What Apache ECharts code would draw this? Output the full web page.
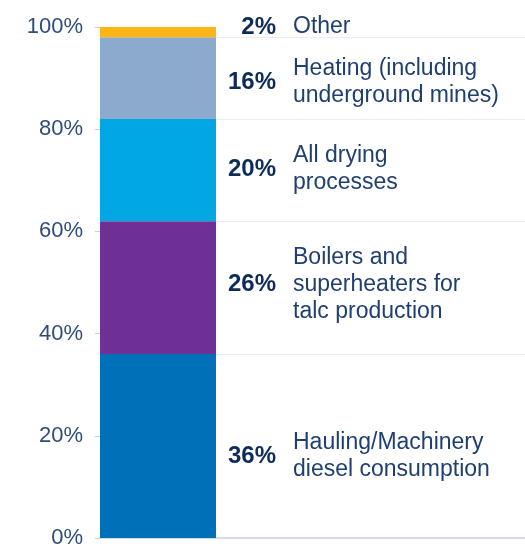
<!DOCTYPE html>
<html>
<head>
<meta charset="utf-8">
<script src="https://cdn.jsdelivr.net/npm/echarts@6/dist/echarts.min.js"></script>
<style>html,body{margin:0;padding:0;background:#fff}#c{width:525px;height:547px}</style>
</head>
<body>
<div id="c"></div>
<script>
// Data (bottom to top)
const categories = ['Hauling/Machinery\ndiesel consumption', 'Boilers and\nsuperheaters for\ntalc production', 'All drying\nprocesses', 'Heating (including\nunderground mines)', 'Other'];
const shares = [36, 26, 20, 16, 2];
const colors = ['#0070B8', '#6F3096', '#00A7E3', '#8CAACE', '#FDB515'];
const yTicks = [0, 20, 40, 60, 80, 100];

const FONT = '"Liberation Sans", Arial, Helvetica, sans-serif';
const labelNudge = [10, -3, -1, 4, -5];

// boundaries between segments
const bounds = [];
let acc = 0;
shares.forEach((v, i) => { acc += v; if (i < shares.length - 1) bounds.push(acc); });

const series = [];
shares.forEach((v, i) => {
  series.push({
    type: 'bar', xAxisIndex: 0, yAxisIndex: 0, stack: 'mix', barWidth: '100%',
    name: categories[i],
    itemStyle: { color: colors[i] },
    emphasis: { disabled: true },
    label: {
      show: true, position: 'right', distance: 0, offset: [0, labelNudge[i]],
      formatter: '{p|{c}%}',
      rich: { p: { width: 60, align: 'right', fontWeight: 'bold', fontSize: 24, fontFamily: FONT, color: '#0d2c5a' } }
    },
    data: [v]
  });
});
shares.forEach((v, i) => {
  const s = {
    type: 'bar', xAxisIndex: 1, yAxisIndex: 1, stack: 'names', barWidth: '100%',
    itemStyle: { color: 'rgba(0,0,0,0)' },
    emphasis: { disabled: true },
    silent: true,
    label: {
      show: true, position: 'insideLeft', distance: 77, offset: [0, labelNudge[i]],
      formatter: () => categories[i],
      fontSize: 23, lineHeight: 27, fontFamily: FONT, color: '#1f3f70'
    },
    data: [v]
  };
  if (i === 0) {
    s.markLine = {
      silent: true, symbol: ['none', 'none'], label: { show: false },
      lineStyle: { color: '#ebebf1', type: 'solid', width: 1 },
      data: bounds.map(b => ({ yAxis: b }))
    };
  }
  series.push(s);
});

const chart = echarts.init(document.getElementById('c'), null, { renderer: 'canvas' });
chart.setOption({
  animation: false,
  backgroundColor: '#ffffff',
  grid: [
    { left: 100, width: 116, top: 27, bottom: 9, containLabel: false, outerBoundsMode: 'none' },
    { left: 216, right: 0, top: 27, bottom: 9, containLabel: false, outerBoundsMode: 'none' }
  ],
  xAxis: [
    { type: 'category', gridIndex: 0, data: ['mix'], axisLine: { show: true, lineStyle: { color: '#d3dce8', width: 2 } }, axisTick: { show: false }, axisLabel: { show: false } },
    { type: 'category', gridIndex: 1, data: ['names'], axisLine: { show: true, lineStyle: { color: '#d3dce8', width: 2 } }, axisTick: { show: false }, axisLabel: { show: false } }
  ],
  yAxis: [
    {
      type: 'value', gridIndex: 0, min: yTicks[0], max: yTicks[yTicks.length - 1], interval: yTicks[1] - yTicks[0],
      axisLine: { show: false },
      axisTick: { show: true, length: 5, lineStyle: { color: '#c7d2e0', width: 1 } },
      splitLine: { show: false },
      axisLabel: { margin: 17, formatter: '{value}%', fontSize: 22, fontFamily: FONT, color: '#2e4d7b' }
    },
    { type: 'value', gridIndex: 1, min: 0, max: 100, show: false, splitLine: { show: false } }
  ],
  series: series
});
</script>
</body>
</html>
